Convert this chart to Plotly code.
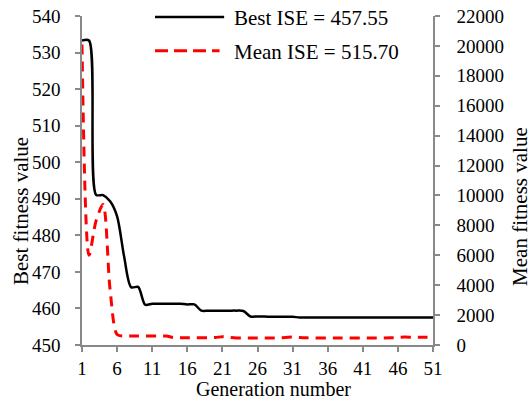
import plotly.graph_objects as go

# Generation index and fitness histories
generations = list(range(1, 52))

best_fitness = [
    533.3, 533.3, 491.1, 491.0, 489.3, 485.2, 474.2, 465.8, 465.9, 461.0,
    461.3, 461.3, 461.3, 461.3, 461.3, 461.1, 461.1, 459.4, 459.4, 459.4,
    459.4, 459.4, 459.4, 459.3, 457.8, 457.8, 457.8, 457.7, 457.7, 457.7,
    457.7, 457.55, 457.55, 457.55, 457.55, 457.55, 457.55, 457.55, 457.55, 457.55,
    457.55, 457.55, 457.55, 457.55, 457.55, 457.55, 457.55, 457.55, 457.55, 457.55,
    457.55,
]

mean_fitness = [
    20100, 6000, 8300, 9400, 3700, 700, 600, 600, 600, 600,
    600, 600, 600, 500, 490, 490, 490, 490, 490, 500,
    560, 510, 470, 470, 470, 470, 470, 470, 480, 500,
    530, 500, 480, 470, 470, 470, 470, 470, 470, 470,
    470, 470, 470, 470, 480, 510, 530, 520, 510, 515.7,
    515.7,
]

x_ticks = [1, 6, 11, 16, 21, 26, 31, 36, 41, 46, 51]

best_label = f"Best ISE = {best_fitness[-1]:.2f}"
mean_label = f"Mean ISE = {mean_fitness[-1]:.2f}"

FONT = "Liberation Serif, Times New Roman, serif"
AXIS_GRAY = "#898989"
TITLE_FONT = dict(family=FONT, size=21, color="black")

fig = go.Figure()

fig.add_trace(go.Scatter(
    x=generations, y=best_fitness, name=best_label,
    mode="lines", line=dict(color="black", width=2.5, shape="spline", smoothing=0.8),
    yaxis="y", showlegend=False,
))
fig.add_trace(go.Scatter(
    x=generations, y=mean_fitness, name=mean_label,
    mode="lines", line=dict(color="#ff0000", width=3, dash="10px,7px",
                            shape="spline", smoothing=0.8),
    yaxis="y2", showlegend=False,
))

axis_common = dict(
    showline=True, linecolor=AXIS_GRAY, linewidth=1.5,
    ticks="outside", ticklen=5, tickcolor=AXIS_GRAY, tickwidth=1.5,
    showgrid=False, zeroline=False, mirror=False, automargin=False,
    tickfont=dict(family=FONT, size=19, color="black"),
)

fig.update_layout(
    width=532, height=401,
    margin=dict(l=82, r=99, t=16, b=56, autoexpand=False),
    paper_bgcolor="white", plot_bgcolor="white",
    font=dict(family=FONT, color="black"),
    xaxis=dict(range=[1, 51], tickvals=x_ticks, ticklabelstandoff=0, **axis_common),
    yaxis=dict(range=[450, 540], dtick=10, ticklabelstandoff=11, **axis_common),
    yaxis2=dict(
        range=[0, 22000], dtick=2000, tickformat="d", overlaying="y", side="right",
        ticklabelstandoff=13, **axis_common,
    ),
)

# Axis titles
fig.add_annotation(text="Generation number", xref="paper", yref="paper",
                   x=0.547, y=-0.1702, xanchor="center", yanchor="bottom",
                   borderpad=0, showarrow=False, font=dict(family=FONT, size=20, color="black"))
fig.add_annotation(text="Best fitness value", xref="paper", yref="paper",
                   x=-0.174, y=0.407, xanchor="center", yanchor="middle",
                   textangle=-90, showarrow=False, font=TITLE_FONT)
fig.add_annotation(text="Mean fitness value", xref="paper", yref="paper",
                   x=1.249, y=0.421, xanchor="center", yanchor="middle",
                   textangle=-90, showarrow=False, font=TITLE_FONT)

# Legend drawn as line samples with labels in the upper part of the plot
fig.add_shape(type="line", xref="paper", yref="paper",
              x0=0.208, x1=0.405, y0=0.997, y1=0.997,
              line=dict(color="black", width=2.5))
fig.add_shape(type="line", xref="paper", yref="paper",
              x0=0.208, x1=0.392, y0=0.894, y1=0.894,
              line=dict(color="#ff0000", width=3, dash="13px,6px"))
fig.add_annotation(text=best_label, xref="paper", yref="paper",
                   x=0.427, y=0.994, xanchor="left", yanchor="middle",
                   showarrow=False, font=TITLE_FONT)
fig.add_annotation(text=mean_label, xref="paper", yref="paper",
                   x=0.427, y=0.891, xanchor="left", yanchor="middle",
                   showarrow=False, font=TITLE_FONT)

fig.write_html("out.html")
